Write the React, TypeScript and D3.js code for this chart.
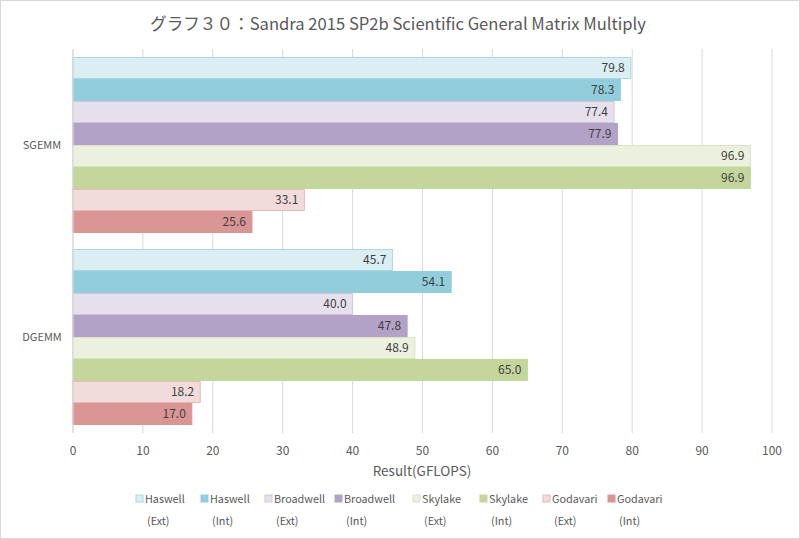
import React from "react";
import * as d3 from "d3";

const categories = ["SGEMM", "DGEMM"];
const seriesNames = [
  ["Haswell", "(Ext)"],
  ["Haswell", "(Int)"],
  ["Broadwell", "(Ext)"],
  ["Broadwell", "(Int)"],
  ["Skylake", "(Ext)"],
  ["Skylake", "(Int)"],
  ["Godavari", "(Ext)"],
  ["Godavari", "(Int)"],
];
const sgemm = [79.8, 78.3, 77.4, 77.9, 96.9, 96.9, 33.1, 25.6];
const dgemm = [45.7, 54.1, 40.0, 47.8, 48.9, 65.0, 18.2, 17.0];
const values = [sgemm, dgemm];
const xTicks = [0, 10, 20, 30, 40, 50, 60, 70, 80, 90, 100];
const fills = ["#daeef3", "#92cddc", "#e5e0ec", "#b2a2c7", "#ebf1de", "#c3d69b", "#f2dcdb", "#d99694"];
const strokes = ["#a8d8e4", "#92cddc", "#cfc6dc", "#b2a2c7", "#d7e4bd", "#c3d69b", "#e6b9b8", "#d99694"];
const legendX = [136, 201, 265, 335, 413, 480, 543, 608];

const W = 800, H = 539;
const font = "'Noto Sans CJK JP', 'Noto Sans', sans-serif";

export default function App() {
  const x = d3.scaleLinear().domain([0, 100]).range([73, 772]);
  const y0 = d3.scaleBand().domain(categories).range([49, 433]).paddingInner(0.0833).paddingOuter(0.0417);
  const y1 = d3.scaleBand().domain(d3.range(8).map(String)).range([0, y0.bandwidth()]);
  return (
    <svg width={W} height={H} style={{ position: "absolute", left: 0, top: 0, fontFamily: font }}>
      <rect x={0.5} y={0.5} width={W - 1} height={H - 1} fill="#fff" stroke="#d9d9d9" />
      <text x={398} y={30} textAnchor="middle" fontSize={16.6} fill="#595959">
        グラフ３０：Sandra 2015 SP2b Scientific General Matrix Multiply
      </text>
      {xTicks.map((t) => (
        <g key={t}>
          <line x1={x(t)} x2={x(t)} y1={49} y2={433} stroke="#d9d9d9" strokeWidth={1} />
          <text x={x(t)} y={455} textAnchor="middle" fontSize={12} fill="#595959">{t}</text>
        </g>
      ))}
      <text x={422} y={476} textAnchor="middle" fontSize={13.5} fill="#595959">Result(GFLOPS)</text>
      {categories.map((c, ci) => (
        <g key={c}>
          <text x={42} y={(y0(c) as number) + y0.bandwidth() / 2 + 4} textAnchor="middle" fontSize={11} fill="#595959">{c}</text>
          {values[ci].map((v, si) => {
            const yy = (y0(c) as number) + (y1(String(si)) as number);
            const h = y1.bandwidth();
            return (
              <g key={si}>
                <rect x={x(0)} y={yy + 0.5} width={x(v) - x(0)} height={h - 1} fill={fills[si]} stroke={strokes[si]} strokeWidth={1} />
                <text x={x(v) - 6} y={yy + h / 2 + 4} textAnchor="end" fontSize={12} fill="#404040">{v.toFixed(1)}</text>
              </g>
            );
          })}
        </g>
      ))}
      <line x1={x(0)} x2={x(0)} y1={49} y2={433} stroke="#d9d9d9" />
      {seriesNames.map((s, i) => (
        <g key={i}>
          <rect x={legendX[i]} y={495} width={7} height={7} fill={fills[i]} stroke={strokes[i]} />
          <text x={legendX[i] + 9} y={503} fontSize={10.8} fill="#595959">{s[0]}</text>
          <text x={legendX[i] + 11} y={525} fontSize={10.8} fill="#595959">{s[1]}</text>
        </g>
      ))}
    </svg>
  );
}
